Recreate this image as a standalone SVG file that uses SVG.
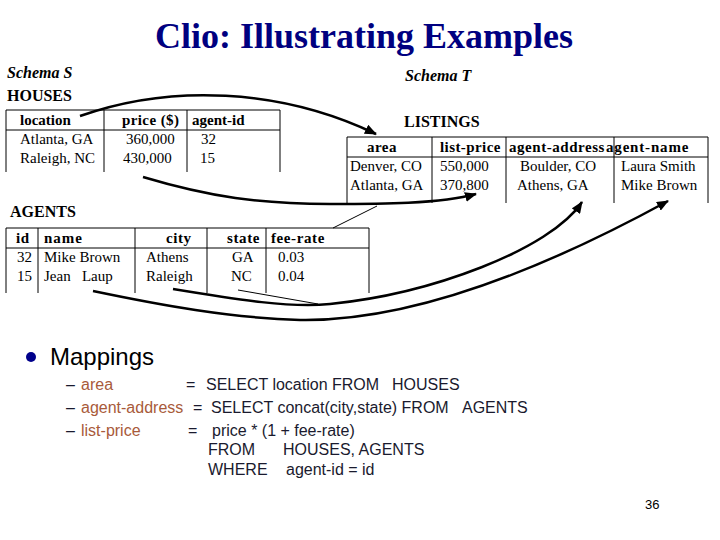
<svg xmlns="http://www.w3.org/2000/svg" width="720" height="540" viewBox="0 0 720 540">
<style>
.ser{font-family:"Liberation Serif","Times New Roman",serif;font-size:15px;fill:#000}
.hd{font-weight:bold;letter-spacing:0.6px}
.tname{font-family:"Liberation Serif","Times New Roman",serif;font-size:16px;font-weight:bold;fill:#000}
.schema{font-family:"Liberation Serif","Times New Roman",serif;font-size:16px;font-weight:bold;font-style:italic;fill:#000}
.grid{stroke:#000;stroke-width:1;fill:none}
.thick{stroke:#000;stroke-width:2.5;fill:none}
.thin{stroke:#000;stroke-width:1;fill:none}
.map{font-family:"Liberation Sans",Arial,sans-serif;font-size:16px;fill:#1a1a2e}
.attr{fill:#A85A3A}
</style>
<defs>
<marker id="ah" markerUnits="userSpaceOnUse" markerWidth="12" markerHeight="10" refX="11" refY="5" orient="auto">
<path d="M0,0 L12,5 L0,10 z" fill="#000"/>
</marker>
</defs>
<rect width="720" height="540" fill="#fff"/>

<g id="title">
<text x="364" y="48" text-anchor="middle" font-family="'Liberation Serif','Times New Roman',serif" font-size="36" font-weight="bold" fill="#000080">Clio: Illustrating Examples</text>
</g>

<g id="schema-s">
<text class="schema" x="7" y="78">Schema S</text>
</g>

<g id="houses">
<text class="tname" x="7" y="101">HOUSES</text>
<path class="grid" d="M6,110 H280 M6,130 H280 M6,110 V172 M104,110 V172 M187,110 V172 M280,110 V172"/>
<text class="ser hd" x="20" y="125" style="letter-spacing:0">location</text>
<text class="ser hd" x="122" y="125" style="letter-spacing:0.4px">price ($)</text>
<text class="ser hd" x="192" y="125" style="letter-spacing:0">agent-id</text>
<text class="ser" x="20" y="144">Atlanta, GA</text>
<text class="ser" x="126" y="144">360,000</text>
<text class="ser" x="201" y="144">32</text>
<text class="ser" x="20" y="163">Raleigh, NC</text>
<text class="ser" x="123" y="163">430,000</text>
<text class="ser" x="200" y="163">15</text>
</g>

<g id="schema-t">
<text class="schema" x="405" y="81">Schema T</text>
</g>

<g id="listings">
<text class="tname" x="404" y="127">LISTINGS</text>
<path class="grid" d="M347,137 H708 M347,157 H708 M347,137 V203 M432,137 V203 M506,137 V203 M614,137 V203 M708,137 V203"/>
<text class="ser hd" x="367" y="152" textLength="30" lengthAdjust="spacing">area</text>
<text class="ser hd" x="440" y="152" textLength="61" lengthAdjust="spacing">list-price</text>
<text class="ser hd" x="509" y="152" textLength="96" lengthAdjust="spacing">agent-address</text>
<text class="ser hd" x="606" y="152" textLength="83" lengthAdjust="spacing">agent-name</text>
<text class="ser" x="350" y="171">Denver, CO</text>
<text class="ser" x="440" y="171">550,000</text>
<text class="ser" x="520" y="171">Boulder, CO</text>
<text class="ser" x="621" y="171">Laura Smith</text>
<text class="ser" x="350" y="190">Atlanta, GA</text>
<text class="ser" x="440" y="190">370,800</text>
<text class="ser" x="517" y="190">Athens, GA</text>
<text class="ser" x="621" y="190">Mike Brown</text>
</g>

<g id="agents">
<text class="tname" x="10" y="217">AGENTS</text>
<path class="grid" d="M6,228 H369 M6,248 H369 M6,228 V293 M38,228 V293 M135,228 V293 M207,228 V293 M266,228 V293 M369,228 V293"/>
<text class="ser hd" x="16" y="243">id</text>
<text class="ser hd" x="44" y="243" style="letter-spacing:1px">name</text>
<text class="ser hd" x="166" y="243">city</text>
<text class="ser hd" x="227" y="243">state</text>
<text class="ser hd" x="271" y="243">fee-rate</text>
<text class="ser" x="17" y="262">32</text>
<text class="ser" x="44" y="262">Mike Brown</text>
<text class="ser" x="146" y="262">Athens</text>
<text class="ser" x="232" y="262">GA</text>
<text class="ser" x="278" y="262">0.03</text>
<text class="ser" x="17" y="281">15</text>
<text class="ser" x="44" y="281" xml:space="preserve">Jean   Laup</text>
<text class="ser" x="146" y="281">Raleigh</text>
<text class="ser" x="231" y="281">NC</text>
<text class="ser" x="278" y="281">0.04</text>
</g>

<g id="connectors">
<path class="thick" d="M80,116 C170,84 280,88 376,134" marker-end="url(#ah)"/>
<path class="thick" d="M143,177 C210,197 260,204 330,204 C380,204 440,204 476,194" marker-end="url(#ah)"/>
<path class="thin" d="M333,228 L377,206"/>
<path class="thick" d="M173,289 C240,300 290,308 330,304 C430,294 550,250 582,202" marker-end="url(#ah)"/>
<path class="thin" d="M238,290 L318,304"/>
<path class="thick" d="M93,291 C160,305 230,318 300,320 C420,322 560,260 668,201" marker-end="url(#ah)"/>
</g>

<g id="mappings">
<circle cx="31" cy="357" r="5" fill="#00008B"/>
<text x="50" y="365" font-family="'Liberation Sans',Arial,sans-serif" font-size="24" fill="#000">Mappings</text>
<text class="map" x="66" y="390">–</text>
<text class="map attr" x="81" y="390">area</text>
<text class="map" x="186" y="390">=</text>
<text class="map" x="206" y="390">SELECT location FROM</text>
<text class="map" x="392" y="390">HOUSES</text>
<text class="map" x="66" y="413">–</text>
<text class="map attr" x="81" y="413">agent-address</text>
<text class="map" x="193" y="413">=</text>
<text class="map" x="211" y="413">SELECT concat(city,state) FROM</text>
<text class="map" x="462" y="413">AGENTS</text>
<text class="map" x="66" y="436">–</text>
<text class="map attr" x="81" y="436">list-price</text>
<text class="map" x="188" y="436">=</text>
<text class="map" x="212" y="436">price * (1 + fee-rate)</text>
<text class="map" x="208" y="455">FROM</text>
<text class="map" x="283" y="455">HOUSES, AGENTS</text>
<text class="map" x="208" y="475">WHERE</text>
<text class="map" x="286" y="475">agent-id = id</text>
</g>

<g id="page-number">
<text x="645" y="509" font-family="'Liberation Sans',Arial,sans-serif" font-size="13" fill="#000">36</text>
</g>
</svg>
